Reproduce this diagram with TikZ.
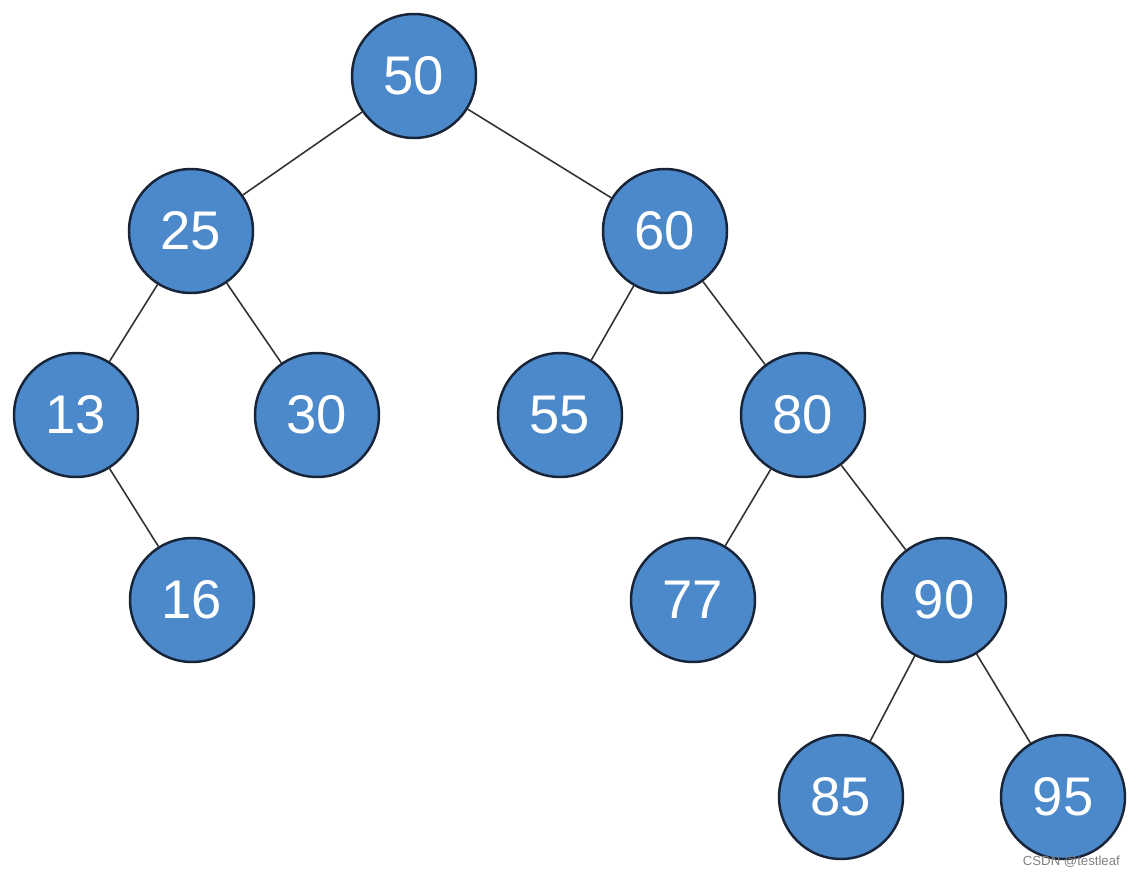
\documentclass[tikz,border=0pt]{standalone}
\usepackage{fontspec}
\setmainfont{Liberation Sans}
\usepackage{xcolor}
\definecolor{nodeblue}{RGB}{76,137,203}
\definecolor{rimnavy}{RGB}{24,36,56}
\definecolor{edgegray}{RGB}{50,50,50}

\begin{document}
\begin{tikzpicture}[x=0.02cm,y=-0.02cm,
  key/.style={circle,draw=rimnavy,line width=1.4pt,fill=nodeblue,text=white,
    minimum size=2.48cm,inner sep=0pt,font=\fontsize{31}{31}\selectfont},
  link/.style={edgegray,line width=0.9pt}]
\useasboundingbox (0,0) rectangle (1140,880);
\node[key] (n50) at (414,76) {50};
\node[key] (n25) at (191,231) {25};
\node[key] (n60) at (665,231) {60};
\node[key] (n13) at (76,415) {13};
\node[key] (n30) at (317,415) {30};
\node[key] (n55) at (560,415) {55};
\node[key] (n80) at (803,415) {80};
\node[key] (n16) at (192,600) {16};
\node[key] (n77) at (693,600) {77};
\node[key] (n90) at (944,600) {90};
\node[key] (n85) at (841,797) {85};
\node[key] (n95) at (1063,797) {95};
\draw[link] (n50) -- (n25);
\draw[link] (n50) -- (n60);
\draw[link] (n25) -- (n13);
\draw[link] (n25) -- (n30);
\draw[link] (n13) -- (n16);
\draw[link] (n60) -- (n55);
\draw[link] (n60) -- (n80);
\draw[link] (n80) -- (n77);
\draw[link] (n80) -- (n90);
\draw[link] (n90) -- (n85);
\draw[link] (n90) -- (n95);
\node[anchor=east,text=gray,font=\fontsize{7.5}{7.5}\selectfont] (mark) at (1126,862) {CSDN @testleaf};
\end{tikzpicture}
\end{document}
